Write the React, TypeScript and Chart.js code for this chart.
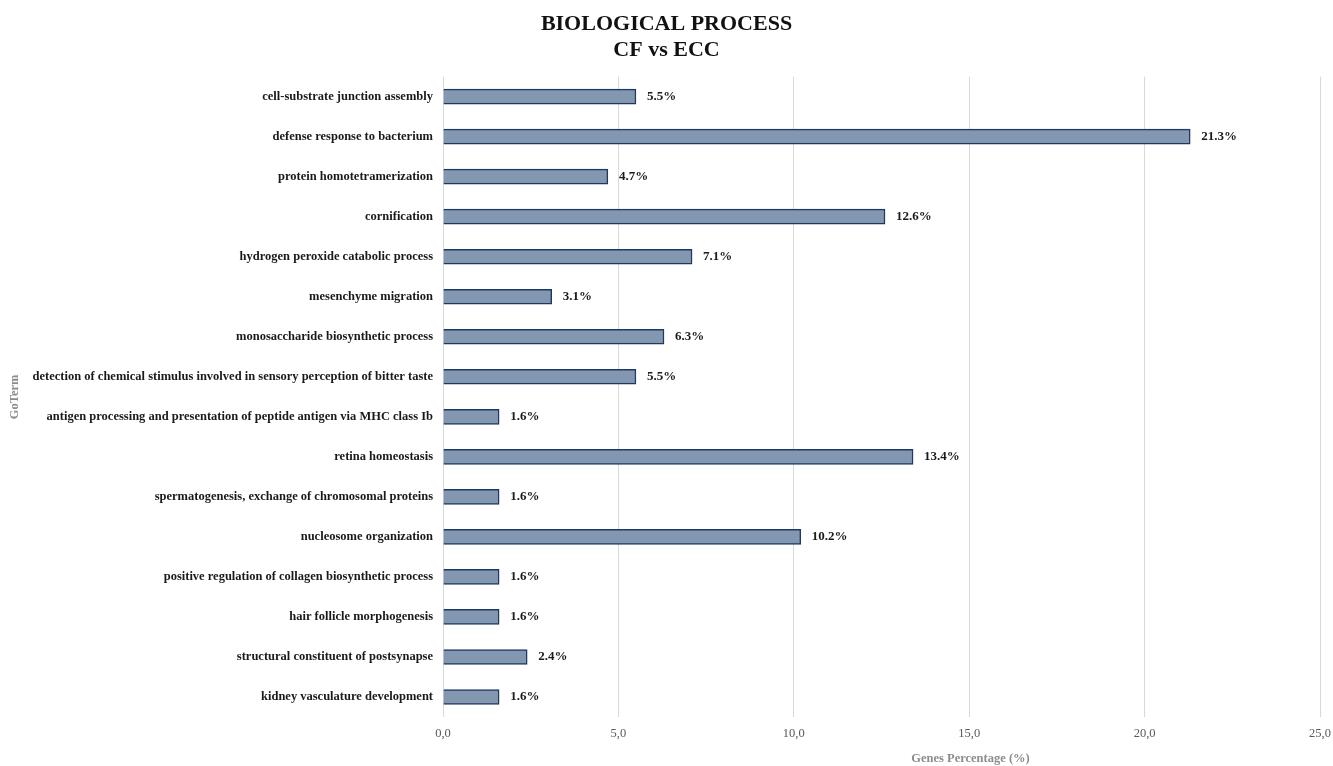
import React, { useEffect, useRef } from "react";
import { Chart, registerables } from "chart.js";

Chart.register(...registerables);

const categories: string[] = [
  "cell-substrate junction assembly",
  "defense response to bacterium",
  "protein homotetramerization",
  "cornification",
  "hydrogen peroxide catabolic process",
  "mesenchyme migration",
  "monosaccharide biosynthetic process",
  "detection of chemical stimulus involved in sensory perception of bitter taste",
  "antigen processing and presentation of peptide antigen via MHC class Ib",
  "retina homeostasis",
  "spermatogenesis, exchange of chromosomal proteins",
  "nucleosome organization",
  "positive regulation of collagen biosynthetic process",
  "hair follicle morphogenesis",
  "structural constituent of postsynapse",
  "kidney vasculature development",
];

const genesPercentage: number[] = [
  5.5, 21.3, 4.7, 12.6, 7.1, 3.1, 6.3, 5.5, 1.6, 13.4, 1.6, 10.2, 1.6, 1.6, 2.4, 1.6,
];

const titleLines: string[] = ["BIOLOGICAL PROCESS", "CF vs ECC"];
const xAxisTitle = "Genes Percentage (%)";
const yAxisTitle = "GoTerm";

const FONT = "'Liberation Serif', 'Times New Roman', serif";

// Writes "12.6%" just past the end of each bar.
const valueLabels = {
  id: "valueLabels",
  afterDatasetsDraw(chart: any) {
    const { ctx } = chart;
    const meta = chart.getDatasetMeta(0);
    ctx.save();
    ctx.font = `bold 13px ${FONT}`;
    ctx.fillStyle = "#1a1a1a";
    ctx.textAlign = "left";
    ctx.textBaseline = "middle";
    meta.data.forEach((bar: any, i: number) => {
      const v = chart.data.datasets[0].data[i] as number;
      ctx.fillText(`${v.toFixed(1)}%`, bar.x + 11, bar.y);
    });
    ctx.restore();
  },
};

// Horizontal axis title, set right of the plot centre.
const xTitle = {
  id: "xTitle",
  afterDraw(chart: any) {
    const { ctx, chartArea } = chart;
    ctx.save();
    ctx.font = `bold 12.5px ${FONT}`;
    ctx.fillStyle = "#8c8c8c";
    ctx.textAlign = "center";
    ctx.textBaseline = "middle";
    ctx.fillText(xAxisTitle, (chartArea.left + chartArea.right) / 2 + 89, chartArea.bottom + 42);
    ctx.restore();
  },
};

export default function App() {
  const canvasRef = useRef<HTMLCanvasElement | null>(null);

  useEffect(() => {
    document.body.style.margin = "0";
    const canvas = canvasRef.current;
    if (!canvas) return;
    const chart = new Chart(canvas, {
      type: "bar",
      data: {
        labels: categories,
        datasets: [
          {
            data: genesPercentage,
            backgroundColor: "#8497b0",
            borderColor: "#1f3864",
            borderWidth: 1.5,
            barThickness: 15,
          },
        ],
      },
      options: {
        indexAxis: "y",
        responsive: false,
        animation: false,
        layout: { padding: { top: 0, right: 0, bottom: 0, left: 0 } },
        plugins: {
          legend: { display: false },
          tooltip: { enabled: false },
          title: {
            display: true,
            text: titleLines,
            color: "#111111",
            font: { family: FONT, size: 22, weight: "bold", lineHeight: 1.15 },
            padding: { top: 12, bottom: 14 },
          },
        },
        scales: {
          x: {
            min: 0,
            max: 25,
            ticks: {
              stepSize: 5,
              color: "#595959",
              font: { family: FONT, size: 12.5 },
              padding: 9,
              callback: (v: any) => Number(v).toFixed(1).replace(".", ","),
            },
            grid: { color: "#d9d9d9", lineWidth: 1, drawTicks: false },
            border: { display: false },
            afterFit: (scale: any) => {
              scale.height = 49;
              scale.paddingRight = 13;
            },
          },
          y: {
            ticks: {
              color: "#1a1a1a",
              font: { family: FONT, size: 12.5, weight: "bold" },
              padding: 10,
              autoSkip: false,
            },
            grid: { display: false, drawTicks: false },
            border: { display: false },
            title: {
              display: true,
              text: yAxisTitle,
              color: "#8c8c8c",
              font: { family: FONT, size: 12.5, weight: "bold" },
              padding: { top: 7, bottom: 0 },
            },
            afterFit: (scale: any) => {
              scale.width = 443;
            },
          },
        },
      },
      plugins: [valueLabels, xTitle],
    });
    return () => chart.destroy();
  }, []);

  return <canvas ref={canvasRef} width={1333} height={766} style={{ display: "block" }} />;
}
